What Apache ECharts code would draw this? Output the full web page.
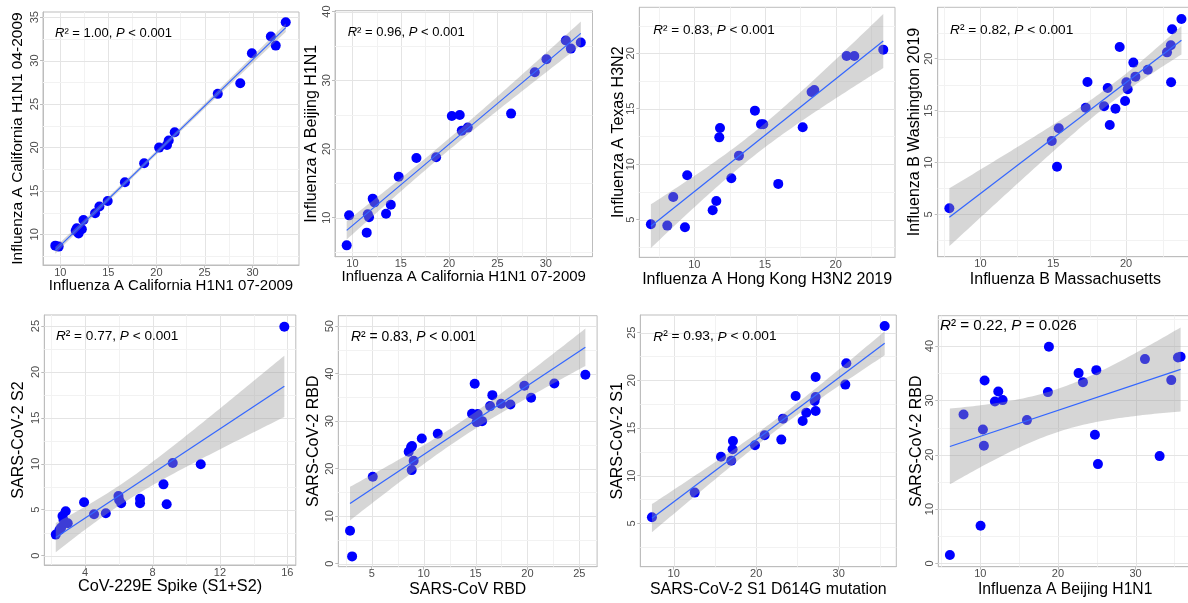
<!DOCTYPE html>
<html><head><meta charset="utf-8">
<script src="https://cdn.jsdelivr.net/npm/echarts@6/dist/echarts.min.js"></script>
<style>html,body{margin:0;padding:0;background:#fff}#c{width:1188px;height:603px}</style>
</head><body><div id="c"></div>
<script>
// ---------------- DATA ----------------
const P1_X = [9.48, 9.83, 11.6, 11.72, 11.9, 12.24, 12.41, 13.62, 14.07, 14.93, 16.72, 18.72, 20.28, 21.1, 21.28, 21.9, 26.38, 28.72, 29.93, 31.9, 32.41, 33.45];
const P1_Y = [8.69, 8.58, 10.4, 10.69, 10.1, 10.57, 11.65, 12.42, 13.19, 13.84, 15.99, 18.18, 19.98, 20.29, 20.79, 21.75, 26.17, 27.4, 30.85, 32.77, 31.73, 34.42];
const P2_X = [9.41, 9.66, 11.48, 11.59, 11.72, 12.1, 12.28, 13.48, 13.97, 14.79, 16.62, 18.66, 20.28, 21.1, 21.31, 21.93, 26.41, 28.86, 30.07, 32.07, 32.59, 33.62];
const P2_Y = [5.97, 10.34, 7.82, 10.49, 10.05, 12.77, 12.23, 10.58, 11.89, 15.97, 18.69, 18.79, 24.8, 24.95, 22.67, 23.11, 25.15, 31.17, 33.06, 35.78, 34.61, 35.49];
const P3_X = [6.93, 8.09, 8.51, 9.34, 9.5, 11.3, 11.56, 11.77, 11.82, 12.62, 13.16, 14.29, 14.72, 14.88, 15.94, 17.67, 18.3, 18.49, 20.78, 21.32, 23.37];
const P3_Y = [4.58, 4.46, 7.04, 4.31, 9.0, 5.84, 6.68, 12.42, 13.27, 8.73, 10.77, 14.83, 13.6, 13.6, 8.22, 13.33, 16.51, 16.69, 19.76, 19.76, 20.33];
const P4_X = [7.87, 14.9, 15.26, 15.38, 17.23, 17.35, 18.49, 18.74, 18.88, 19.27, 19.56, 19.93, 20.02, 20.11, 20.5, 20.64, 21.49, 22.81, 23.07, 23.09, 23.16, 23.8];
const P4_Y = [5.58, 12.07, 9.59, 13.29, 15.28, 17.75, 15.41, 17.17, 13.61, 15.18, 21.12, 15.92, 17.72, 17.05, 19.62, 18.27, 18.94, 20.61, 21.29, 17.72, 22.83, 23.82];
const P5_X = [2.26, 2.48, 2.58, 2.66, 2.72, 2.85, 2.97, 3.94, 4.53, 5.23, 5.98, 6.02, 6.14, 7.26, 7.26, 8.65, 8.84, 9.2, 10.86, 15.82];
const P5_Y = [2.29, 2.79, 3.05, 4.32, 3.88, 4.83, 3.52, 5.81, 4.5, 4.61, 6.5, 6.06, 5.7, 6.2, 5.7, 7.76, 5.59, 10.09, 9.94, 24.93];
const P6_X = [2.91, 3.11, 5.1, 8.56, 8.79, 8.88, 8.85, 9.04, 9.82, 11.36, 14.66, 14.92, 14.98, 15.11, 15.21, 15.63, 16.4, 16.62, 17.46, 18.36, 19.7, 20.35, 22.59, 25.58];
const P6_Y = [6.94, 1.54, 18.3, 23.56, 24.54, 24.75, 19.7, 21.67, 26.37, 27.35, 31.56, 37.87, 31.28, 29.8, 31.49, 30.01, 33.17, 35.48, 33.66, 33.52, 37.45, 34.92, 37.94, 39.76];
const P7_X = [7.37, 12.55, 15.74, 16.99, 17.15, 17.19, 19.86, 21.03, 23.05, 23.25, 24.79, 25.64, 26.08, 27.09, 27.21, 27.21, 27.21, 30.81, 30.93, 35.58];
const P7_Y = [5.63, 8.22, 11.99, 11.57, 12.76, 13.64, 13.18, 14.23, 13.78, 15.98, 18.36, 15.73, 16.61, 17.83, 18.25, 16.78, 20.35, 19.55, 21.78, 25.7];
const P8_X = [6.09, 7.85, 10.04, 10.34, 10.47, 10.56, 11.89, 12.32, 12.88, 16.01, 18.71, 18.84, 22.66, 23.22, 24.76, 24.94, 25.15, 31.2, 33.09, 34.59, 35.45, 35.79];
const P8_Y = [1.53, 27.42, 6.93, 24.66, 21.66, 33.68, 29.82, 31.66, 30.06, 26.38, 31.53, 39.88, 35.03, 33.37, 23.68, 35.58, 18.28, 37.61, 19.75, 33.74, 37.91, 38.04];

const X_TITLES = ['Influenza A California H1N1 07-2009', 'Influenza A California H1N1 07-2009', 'Influenza A Hong Kong H3N2 2019', 'Influenza B Massachusetts',
  'CoV-229E Spike (S1+S2)', 'SARS-CoV RBD', 'SARS-CoV-2 S1 D614G mutation', 'Influenza A Beijing H1N1'];
const Y_TITLES = ['Influenza A California H1N1 04-2009', 'Influenza A Beijing H1N1', 'Influenza A Texas H3N2', 'Influenza B Washington 2019',
  'SARS-CoV-2 S2', 'SARS-CoV-2 RBD', 'SARS-CoV-2 S1', 'SARS-CoV-2 RBD'];
const R2_TEXT = ['1.00', '0.96', '0.83', '0.82', '0.77', '0.83', '0.93', '0.22'];
const P_TEXT = ['< 0.001', '< 0.001', '< 0.001', '< 0.001', '< 0.001', '< 0.001', '< 0.001', '= 0.026'];
const X_TICKS = [[10, 15, 20, 25, 30], [10, 15, 20, 25, 30], [10, 15, 20], [10, 15, 20], [4, 8, 12, 16], [5, 10, 15, 20, 25], [10, 20, 30], [10, 20, 30]];
const Y_TICKS = [[10, 15, 20, 25, 30, 35], [10, 20, 30, 40], [5, 10, 15, 20], [5, 10, 15, 20], [0, 5, 10, 15, 20, 25], [0, 10, 20, 30, 40, 50], [5, 10, 15, 20, 25], [0, 10, 20, 30, 40]];
const X_LIMITS = [[8.2, 34.83], [8.2, 34.83], [6.11, 24.2], [7.07, 24.6], [1.58, 16.5], [1.78, 26.71], [5.96, 36.99], [4.6, 37.27]];
const Y_LIMITS = [[6.46, 35.6], [4.32, 40.13], [1.6, 24.15], [0.92, 24.95], [-1.02, 26.2], [-0.63, 52.2], [0.45, 26.85], [-0.61, 45.6]];

// ---------------- LAYOUT ----------------
// xC / yC: pixel distance from axis line to centre of axis title
const BOXES = [
  {left: 43, top: 12, width: 256, height: 253, xC: 21, yC: 25, xF: 15, yF: 15.5, aF: 13, ann: [55, 33.3]},
  {left: 335, top: 10.7, width: 257.5, height: 246, xC: 20, yC: 23.3, xF: 15, yF: 16, aF: 13, ann: [347.7, 32.3]},
  {left: 639.3, top: 7.3, width: 255.7, height: 250, xC: 22.7, yC: 21, xF: 16, yF: 16, aF: 13.5, ann: [653.3, 30]},
  {left: 937.7, top: 7.3, width: 255.4, height: 249.4, xC: 22.6, yC: 22.7, xF: 16, yF: 16, aF: 13.7, ann: [950, 30]},
  {left: 44.3, top: 315, width: 251.5, height: 250, xC: 21.7, yC: 26, xF: 16.3, yF: 16, aF: 13.6, ann: [56, 336.7]},
  {left: 338.3, top: 315.7, width: 258.8, height: 251, xC: 23.3, yC: 25, xF: 15.8, yF: 16, aF: 13.9, ann: [351, 336.7]},
  {left: 640.3, top: 315, width: 256, height: 251.7, xC: 23.3, yC: 22.4, xF: 15.9, yF: 16, aF: 13.7, ann: [653.3, 336.7]},
  {left: 938.3, top: 315.7, width: 253.8, height: 251, xC: 23.3, yC: 21.6, xF: 15.7, yF: 16, aF: 15.2, ann: [940, 326]}
];
const FONT = '"Liberation Sans", Arial, Helvetica, sans-serif';

const XS = [P1_X, P2_X, P3_X, P4_X, P5_X, P6_X, P7_X, P8_X];
const YS = [P1_Y, P2_Y, P3_Y, P4_Y, P5_Y, P6_Y, P7_Y, P8_Y];

// linear model fit with 95% confidence band (like geom_smooth(method = "lm"))
function tq(df) {
  const z = 1.959964;
  return z + (z ** 3 + z) / (4 * df) + (5 * z ** 5 + 16 * z ** 3 + 3 * z) / (96 * df * df);
}
function lmFit(xs, ys) {
  const n = xs.length;
  const mx = xs.reduce((a, b) => a + b, 0) / n;
  const my = ys.reduce((a, b) => a + b, 0) / n;
  let sxx = 0, sxy = 0;
  for (let i = 0; i < n; i++) { sxx += (xs[i] - mx) ** 2; sxy += (xs[i] - mx) * (ys[i] - my); }
  const b = sxy / sxx, a = my - b * mx;
  let rss = 0;
  for (let i = 0; i < n; i++) rss += (ys[i] - a - b * xs[i]) ** 2;
  const s = Math.sqrt(rss / (n - 2));
  const t = tq(n - 2);
  const x0 = Math.min(...xs), x1 = Math.max(...xs);
  const band = [];
  const N = 80;
  for (let k = 0; k < N; k++) {
    const xv = x0 + (x1 - x0) * k / (N - 1);
    const yh = a + b * xv;
    const se = s * Math.sqrt(1 / n + (xv - mx) ** 2 / sxx);
    band.push([xv, yh - t * se, yh + t * se]);
  }
  return {line: [[x0, a + b * x0], [x1, a + b * x1]], band};
}

function gridItems(i) {
  const xl = X_LIMITS[i], yl = Y_LIMITS[i];
  const items = [];
  function add(ticks, lim, isX) {
    const step = ticks.length > 1 ? ticks[1] - ticks[0] : 1;
    const ext = [ticks[0] - step].concat(ticks, [ticks[ticks.length - 1] + step]);
    for (let k = 0; k < ext.length - 1; k++) {
      const m = (ext[k] + ext[k + 1]) / 2;
      if (m > lim[0] && m < lim[1]) items.push(isX ? [m, yl[0], 1] : [xl[0], m, 3]);
    }
    ticks.forEach(v => { if (v >= lim[0] && v <= lim[1]) items.push(isX ? [v, yl[0], 0] : [xl[0], v, 2]); });
  }
  add(X_TICKS[i], xl, true);
  add(Y_TICKS[i], yl, false);
  return items;
}

const option = {
  animation: false,
  backgroundColor: '#ffffff',
  grid: [], xAxis: [], yAxis: [], series: [], graphic: []
};

for (let i = 0; i < 8; i++) {
  const bx = BOXES[i];
  option.grid.push({left: bx.left, top: bx.top, width: bx.width, height: bx.height, show: true,
    borderColor: '#bdbdbd', borderWidth: 1, backgroundColor: 'transparent', containLabel: false, outerBoundsMode: 'none'});
  const axisCommon = {
    type: 'value', gridIndex: i, nameLocation: 'middle', nameMoveOverlap: false,
    axisLine: {show: true, onZero: false, lineStyle: {color: '#bdbdbd', width: 1}},
    splitLine: {show: false}, minorSplitLine: {show: false}
  };
  option.xAxis.push(Object.assign({}, axisCommon, {
    min: X_LIMITS[i][0], max: X_LIMITS[i][1], name: X_TITLES[i], nameGap: bx.xC - bx.xF / 2,
    nameTextStyle: {fontSize: bx.xF, color: '#000', fontFamily: FONT},
    axisTick: {show: true, length: 3, lineStyle: {color: '#bdbdbd'}, customValues: X_TICKS[i]},
    axisLabel: {customValues: X_TICKS[i], fontSize: 11, color: '#4d4d4d', margin: 2, fontFamily: FONT}
  }));
  option.yAxis.push(Object.assign({}, axisCommon, {
    min: Y_LIMITS[i][0], max: Y_LIMITS[i][1], name: Y_TITLES[i], nameGap: bx.yC - bx.yF / 2,
    nameTextStyle: {fontSize: bx.yF, color: '#000', fontFamily: FONT},
    axisTick: {show: true, length: 3, lineStyle: {color: '#bdbdbd'}, customValues: Y_TICKS[i]},
    axisLabel: {customValues: Y_TICKS[i], fontSize: 11, color: '#4d4d4d', margin: 3, rotate: 90, fontFamily: FONT}
  }));

  // grid lines
  option.series.push({
    type: 'custom', xAxisIndex: i, yAxisIndex: i, z: 1, silent: true,
    data: gridItems(i),
    renderItem: function (params, api) {
      const cs = params.coordSys;
      const p = api.coord([api.value(0), api.value(1)]);
      const kind = api.value(2);
      const col = (kind === 0 || kind === 2) ? '#e4e4e4' : '#f2f2f2';
      let shape;
      if (kind < 2) { const x = Math.round(p[0]) + 0.5; shape = {x1: x, y1: cs.y, x2: x, y2: cs.y + cs.height}; }
      else { const y = Math.round(p[1]) + 0.5; shape = {x1: cs.x, y1: y, x2: cs.x + cs.width, y2: y}; }
      return {type: 'line', shape, style: {stroke: col, lineWidth: 1}};
    }
  });

  // points
  option.series.push({
    type: 'scatter', xAxisIndex: i, yAxisIndex: i, z: 3, clip: false,
    symbolSize: 10, itemStyle: {color: '#0000ff', opacity: 1},
    data: XS[i].map((x, k) => [x, YS[i][k]])
  });

  const fit = lmFit(XS[i], YS[i]);
  // confidence band
  option.series.push({
    type: 'custom', xAxisIndex: i, yAxisIndex: i, z: 4, silent: true,
    data: [[fit.band[0][0], fit.band[0][1]]],
    renderItem: (function (band) {
      return function (params, api) {
        const pts = band.map(b => api.coord([b[0], b[1]]));
        for (let k = band.length - 1; k >= 0; k--) pts.push(api.coord([band[k][0], band[k][2]]));
        return {type: 'polygon', shape: {points: pts}, style: {fill: 'rgba(153,153,153,0.4)', stroke: null}};
      };
    })(fit.band)
  });
  // regression line
  option.series.push({
    type: 'line', xAxisIndex: i, yAxisIndex: i, z: 5, silent: true, symbol: 'none',
    lineStyle: {color: '#3366ff', width: 1.2}, data: fit.line
  });

  // annotation
  option.graphic.push({
    type: 'text', x: bx.ann[0], y: bx.ann[1], z: 10,
    style: {
      text: '{i|R}{n|\u00b2 = ' + R2_TEXT[i] + ', }{i|P}{n| ' + P_TEXT[i] + '}',
      rich: {
        i: {fontStyle: 'italic', fontSize: bx.aF, fontFamily: FONT, fill: '#000', color: '#000'},
        n: {fontSize: bx.aF, fontFamily: FONT, fill: '#000', color: '#000'}
      },
      verticalAlign: 'middle', align: 'left', fill: '#000'
    }
  });
}

const chart = echarts.init(document.getElementById('c'), null, {renderer: 'canvas'});
chart.setOption(option);
</script></body></html>
